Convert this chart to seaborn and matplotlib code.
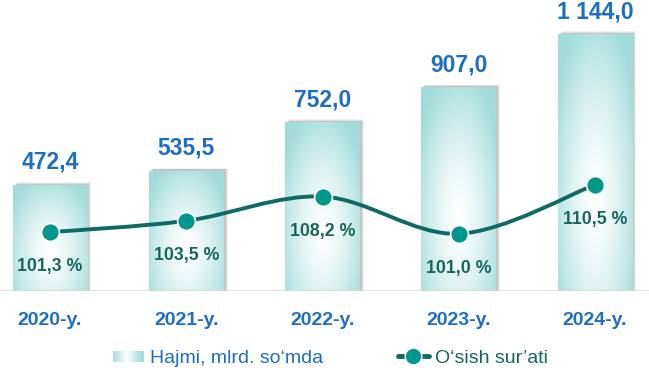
import numpy as np
import pandas as pd
import matplotlib
matplotlib.use("Agg")
import matplotlib.pyplot as plt
import seaborn as sns
from matplotlib.path import Path
from matplotlib.patches import PathPatch, Rectangle
from matplotlib.lines import Line2D
from matplotlib.legend_handler import HandlerBase

# ---------------- data ----------------
years = ["2020-y.", "2021-y.", "2022-y.", "2023-y.", "2024-y."]
volume = [472.4, 535.5, 752.0, 907.0, 1144.0]
volume_labels = ["472,4", "535,5", "752,0", "907,0", "1 144,0"]
growth = [101.3, 103.5, 108.2, 101.0, 110.5]
growth_labels = ["101,3 %", "103,5 %", "108,2 %", "101,0 %", "110,5 %"]
legend_labels = ["Hajmi, mlrd. so\u2018mda", "O\u2018sish sur\u2019ati"]

BLUE = "#1D6FC1"
TEAL_LINE = "#0E6A63"
TEAL_MARK = "#00968C"
TEAL_TEXT = "#17675F"
BAR_EDGE = np.array([0xA2, 0xDC, 0xD9]) / 255.0

sns.set_theme(style="white")
plt.rcParams["font.family"] = ["Liberation Sans", "DejaVu Sans"]

W, H = 649, 375
fig = plt.figure(figsize=(W / 100, H / 100), dpi=100)
ax = fig.add_axes([0, (H - 291) / H, 1, 291 / H])

df = pd.DataFrame({"year": years, "volume": volume})
sns.barplot(data=df, x="year", y="volume", ax=ax, width=0.55,
            color="white", edgecolor="none", saturation=1, zorder=2)

x0_px = 50
step_px = 136.25
XLIM = (-x0_px / step_px, (W - x0_px) / step_px)
YLIM = (0, 1296)
ax.set_xlim(*XLIM)
ax.set_ylim(*YLIM)

# radial gradient image for bar fill
gy, gx = np.mgrid[0:1:200j, 0:1:100j]
d = np.sqrt(((gx - 0.5) / 0.62) ** 2 + ((gy - 0.35) / 0.75) ** 2)
t = np.clip(d, 0, 1) ** 1.4
img = np.ones((200, 100, 3)) * (1 - t[..., None]) + BAR_EDGE * t[..., None]

px_x = (XLIM[1] - XLIM[0]) / W
px_y = (YLIM[1] - YLIM[0]) / 291

for p in list(ax.patches):
    x, y0 = p.get_x(), p.get_y()
    w, h = p.get_width(), p.get_height()
    for k, a in [(4, 0.10), (3, 0.16), (2, 0.24)]:
        ax.add_patch(Rectangle((x + k * px_x, y0), w, h + k * px_y * 0.7,
                               facecolor="#7a7a7a", alpha=a, edgecolor="none", zorder=1))
    im = ax.imshow(img, extent=(x, x + w, y0, y0 + h), origin="lower",
                   aspect="auto", zorder=3)
    im.set_clip_path(p)

ax.set_xlim(*XLIM)
ax.set_ylim(*YLIM)

for i, (v, lab) in enumerate(zip(volume, volume_labels)):
    ax.annotate(lab, (i, v), xytext=(0, 11.5), textcoords="offset points",
                ha="center", va="baseline", fontsize=16.5, fontweight="bold",
                color=BLUE, zorder=5)

ax.axhline(0, color="#D9D9D9", lw=1.2, zorder=4)
for s in ax.spines.values():
    s.set_visible(False)
ax.set_yticks([])
ax.set_xlabel("")
ax.set_ylabel("")
ax.tick_params(axis="x", length=0, pad=15)
for tl in ax.get_xticklabels():
    tl.set_fontsize(14)
    tl.set_fontweight("bold")
    tl.set_color(BLUE)

# secondary axis: growth line
ax2 = ax.twinx()
ax2.set_ylim(89.9, 146.3)
ax2.set_xlim(*XLIM)
xs = np.arange(len(growth), dtype=float)
pts = np.column_stack([xs, np.array(growth, dtype=float)])
verts = [tuple(pts[0])]
codes = [Path.MOVETO]
n = len(pts)
for i in range(n - 1):
    pm = pts[i - 1] if i > 0 else pts[i]
    p0, p1 = pts[i], pts[i + 1]
    p2 = pts[i + 2] if i + 2 < n else pts[i + 1]
    c1 = p0 + (p1 - pm) / 6
    c2 = p1 - (p2 - p0) / 6
    verts += [tuple(c1), tuple(c2), tuple(p1)]
    codes += [Path.CURVE4] * 3
ax2.add_patch(PathPatch(Path(verts, codes), facecolor="none",
                        edgecolor=TEAL_LINE, lw=2.8, capstyle="round", zorder=6))
sns.scatterplot(x=xs, y=growth, ax=ax2, s=165, color=TEAL_MARK,
                edgecolor="white", linewidth=1.2, zorder=7, legend=False)
for i, (g, lab) in enumerate(zip(growth, growth_labels)):
    ax2.annotate(lab, (i, g), xytext=(0, -25), textcoords="offset points",
                 ha="center", va="center", fontsize=12.8, fontweight="bold",
                 color=TEAL_TEXT, zorder=8)
for s in ax2.spines.values():
    s.set_visible(False)
ax2.set_yticks([])
ax2.set_ylabel("")


class GradientHandler(HandlerBase):
    def create_artists(self, legend, orig_handle, xdescent, ydescent,
                       width, height, fontsize, trans):
        arts = []
        nseg = 14
        for k in range(nseg):
            f = abs((k + 0.5) / nseg - 0.45) * 2
            f = min(1.0, f * 1.1)
            c = (1 - f) * np.ones(3) + f * BAR_EDGE
            r = Rectangle((xdescent + width * k / nseg, ydescent + height * 0.05),
                          width / nseg + 0.3, height * 0.8, facecolor=c,
                          edgecolor="none", transform=trans)
            arts.append(r)
        return arts


bar_handle = Rectangle((0, 0), 1, 1)
line_handle = Line2D([0], [0], color=TEAL_LINE, lw=3.5, marker="o",
                     markersize=12, markerfacecolor=TEAL_MARK,
                     markeredgecolor="white", markeredgewidth=1)
leg = fig.legend([bar_handle, line_handle], legend_labels,
                 handler_map={Rectangle: GradientHandler()},
                 loc="center", bbox_to_anchor=(0.509, (H - 358) / H), ncol=2,
                 frameon=False, fontsize=14, handlelength=1.6,
                 handletextpad=0.3, columnspacing=3.85)
leg.get_texts()[0].set_color(BLUE)
leg.get_texts()[1].set_color(TEAL_TEXT)

fig.savefig("out.png", dpi=100)
